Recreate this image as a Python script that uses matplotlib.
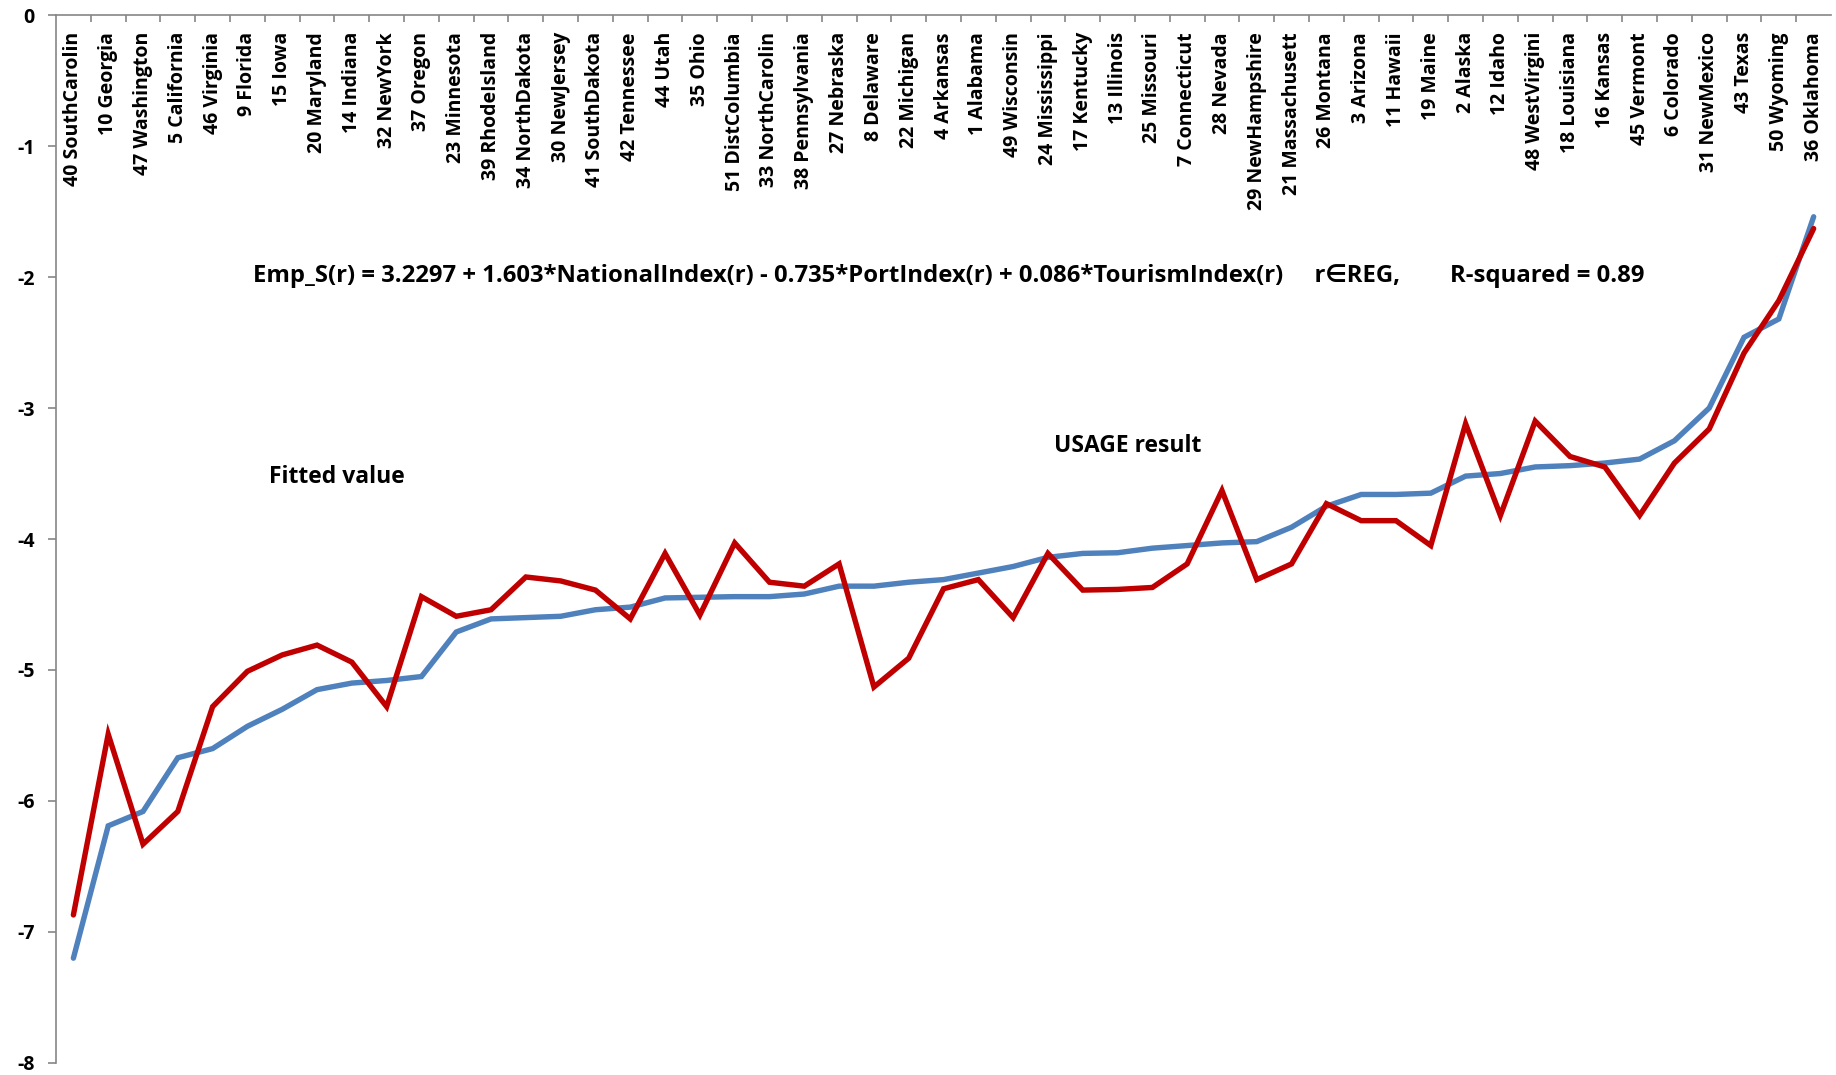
import matplotlib.pyplot as plt
import numpy as np

plt.rcParams['font.family'] = ['Open Sans', 'DejaVu Sans']
plt.rcParams['font.weight'] = 'bold'

regions = ["40 SouthCarolin", "10 Georgia", "47 Washington", "5 California", "46 Virginia",
           "9 Florida", "15 Iowa", "20 Maryland", "14 Indiana", "32 NewYork",
           "37 Oregon", "23 Minnesota", "39 RhodeIsland", "34 NorthDakota", "30 NewJersey",
           "41 SouthDakota", "42 Tennessee", "44 Utah", "35 Ohio", "51 DistColumbia",
           "33 NorthCarolin", "38 Pennsylvania", "27 Nebraska", "8 Delaware", "22 Michigan",
           "4 Arkansas", "1 Alabama", "49 Wisconsin", "24 Mississippi", "17 Kentucky",
           "13 Illinois", "25 Missouri", "7 Connecticut", "28 Nevada", "29 NewHampshire",
           "21 Massachusett", "26 Montana", "3 Arizona", "11 Hawaii", "19 Maine",
           "2 Alaska", "12 Idaho", "48 WestVirgini", "18 Louisiana", "16 Kansas",
           "45 Vermont", "6 Colorado", "31 NewMexico", "43 Texas", "50 Wyoming",
           "36 Oklahoma"]

# fitted value (blue)
fitted = [-7.20, -6.19, -6.08, -5.67, -5.60, -5.43, -5.30, -5.15, -5.10, -5.08,
          -5.05, -4.71, -4.61, -4.60, -4.59, -4.54, -4.52, -4.45, -4.445, -4.44,
          -4.44, -4.42, -4.36, -4.36, -4.33, -4.31, -4.26, -4.21, -4.14, -4.11,
          -4.105, -4.07, -4.05, -4.03, -4.02, -3.91, -3.75, -3.66, -3.66, -3.65,
          -3.52, -3.50, -3.45, -3.44, -3.42, -3.39, -3.25, -3.00, -2.46, -2.32,
          -1.54]

# USAGE result (red)
usage = [-6.87, -5.49, -6.33, -6.08, -5.28, -5.01, -4.885, -4.81, -4.94, -5.28,
         -4.44, -4.59, -4.54, -4.29, -4.32, -4.39, -4.61, -4.11, -4.58, -4.03,
         -4.33, -4.36, -4.19, -5.13, -4.91, -4.38, -4.31, -4.60, -4.11, -4.39,
         -4.385, -4.37, -4.19, -3.63, -4.31, -4.19, -3.73, -3.86, -3.86, -4.05,
         -3.12, -3.82, -3.10, -3.37, -3.45, -3.82, -3.42, -3.16, -2.58, -2.18,
         -1.63]

x = np.arange(len(regions))

fig = plt.figure(figsize=(18.36, 10.75), dpi=100)
ax = fig.add_axes([0.0305, 0.0112, 0.9668, 0.9748])

ax.plot(x, fitted, color='#4F81BD', lw=3.9, solid_capstyle='round', solid_joinstyle='miter')
ax.plot(x, usage, color='#C00000', lw=3.9, solid_capstyle='round', solid_joinstyle='miter')

ax.set_xlim(-0.5, len(regions) - 0.5)
ax.set_ylim(-8, 0)

for s in ['right', 'bottom']:
    ax.spines[s].set_visible(False)
for s in ['left', 'top']:
    ax.spines[s].set_color('#868686')
    ax.spines[s].set_linewidth(1.2)

ax.set_yticks(np.arange(-8, 1, 1))
ax.set_yticklabels([str(v) for v in range(-8, 1)], fontsize=14, fontweight='bold')
ax.tick_params(axis='y', direction='out', length=5.5, width=1.2, color='#868686', pad=10)

# category ticks between points, labels hung below the top axis
ax.set_xticks([])
ax.set_xticks(x[:-1] + 0.5, minor=True)
ax.tick_params(axis='x', which='minor', top=True, bottom=False, direction='in',
               length=5, width=1.2, color='#868686')
for i, lab in enumerate(regions):
    ax.text(i, -0.13, lab, rotation=90, ha='center', va='top', fontsize=14,
            fontweight='bold')

ax.text(0.111, -1.99, "Emp_S(r) = 3.2297 + 1.603*NationalIndex(r) - 0.735*PortIndex(r) + "
        "0.086*TourismIndex(r)     r\u2208REG,        R-squared = 0.89",
        transform=ax.get_yaxis_transform(), ha='left', va='center', fontsize=17.2,
        fontweight='bold')

ax.text(7.58, -3.53, "Fitted value", ha='center', va='center', fontsize=16.5, fontweight='bold')
ax.text(30.3, -3.29, "USAGE result", ha='center', va='center', fontsize=16.5, fontweight='bold')

fig.savefig('out.png', dpi=100)
